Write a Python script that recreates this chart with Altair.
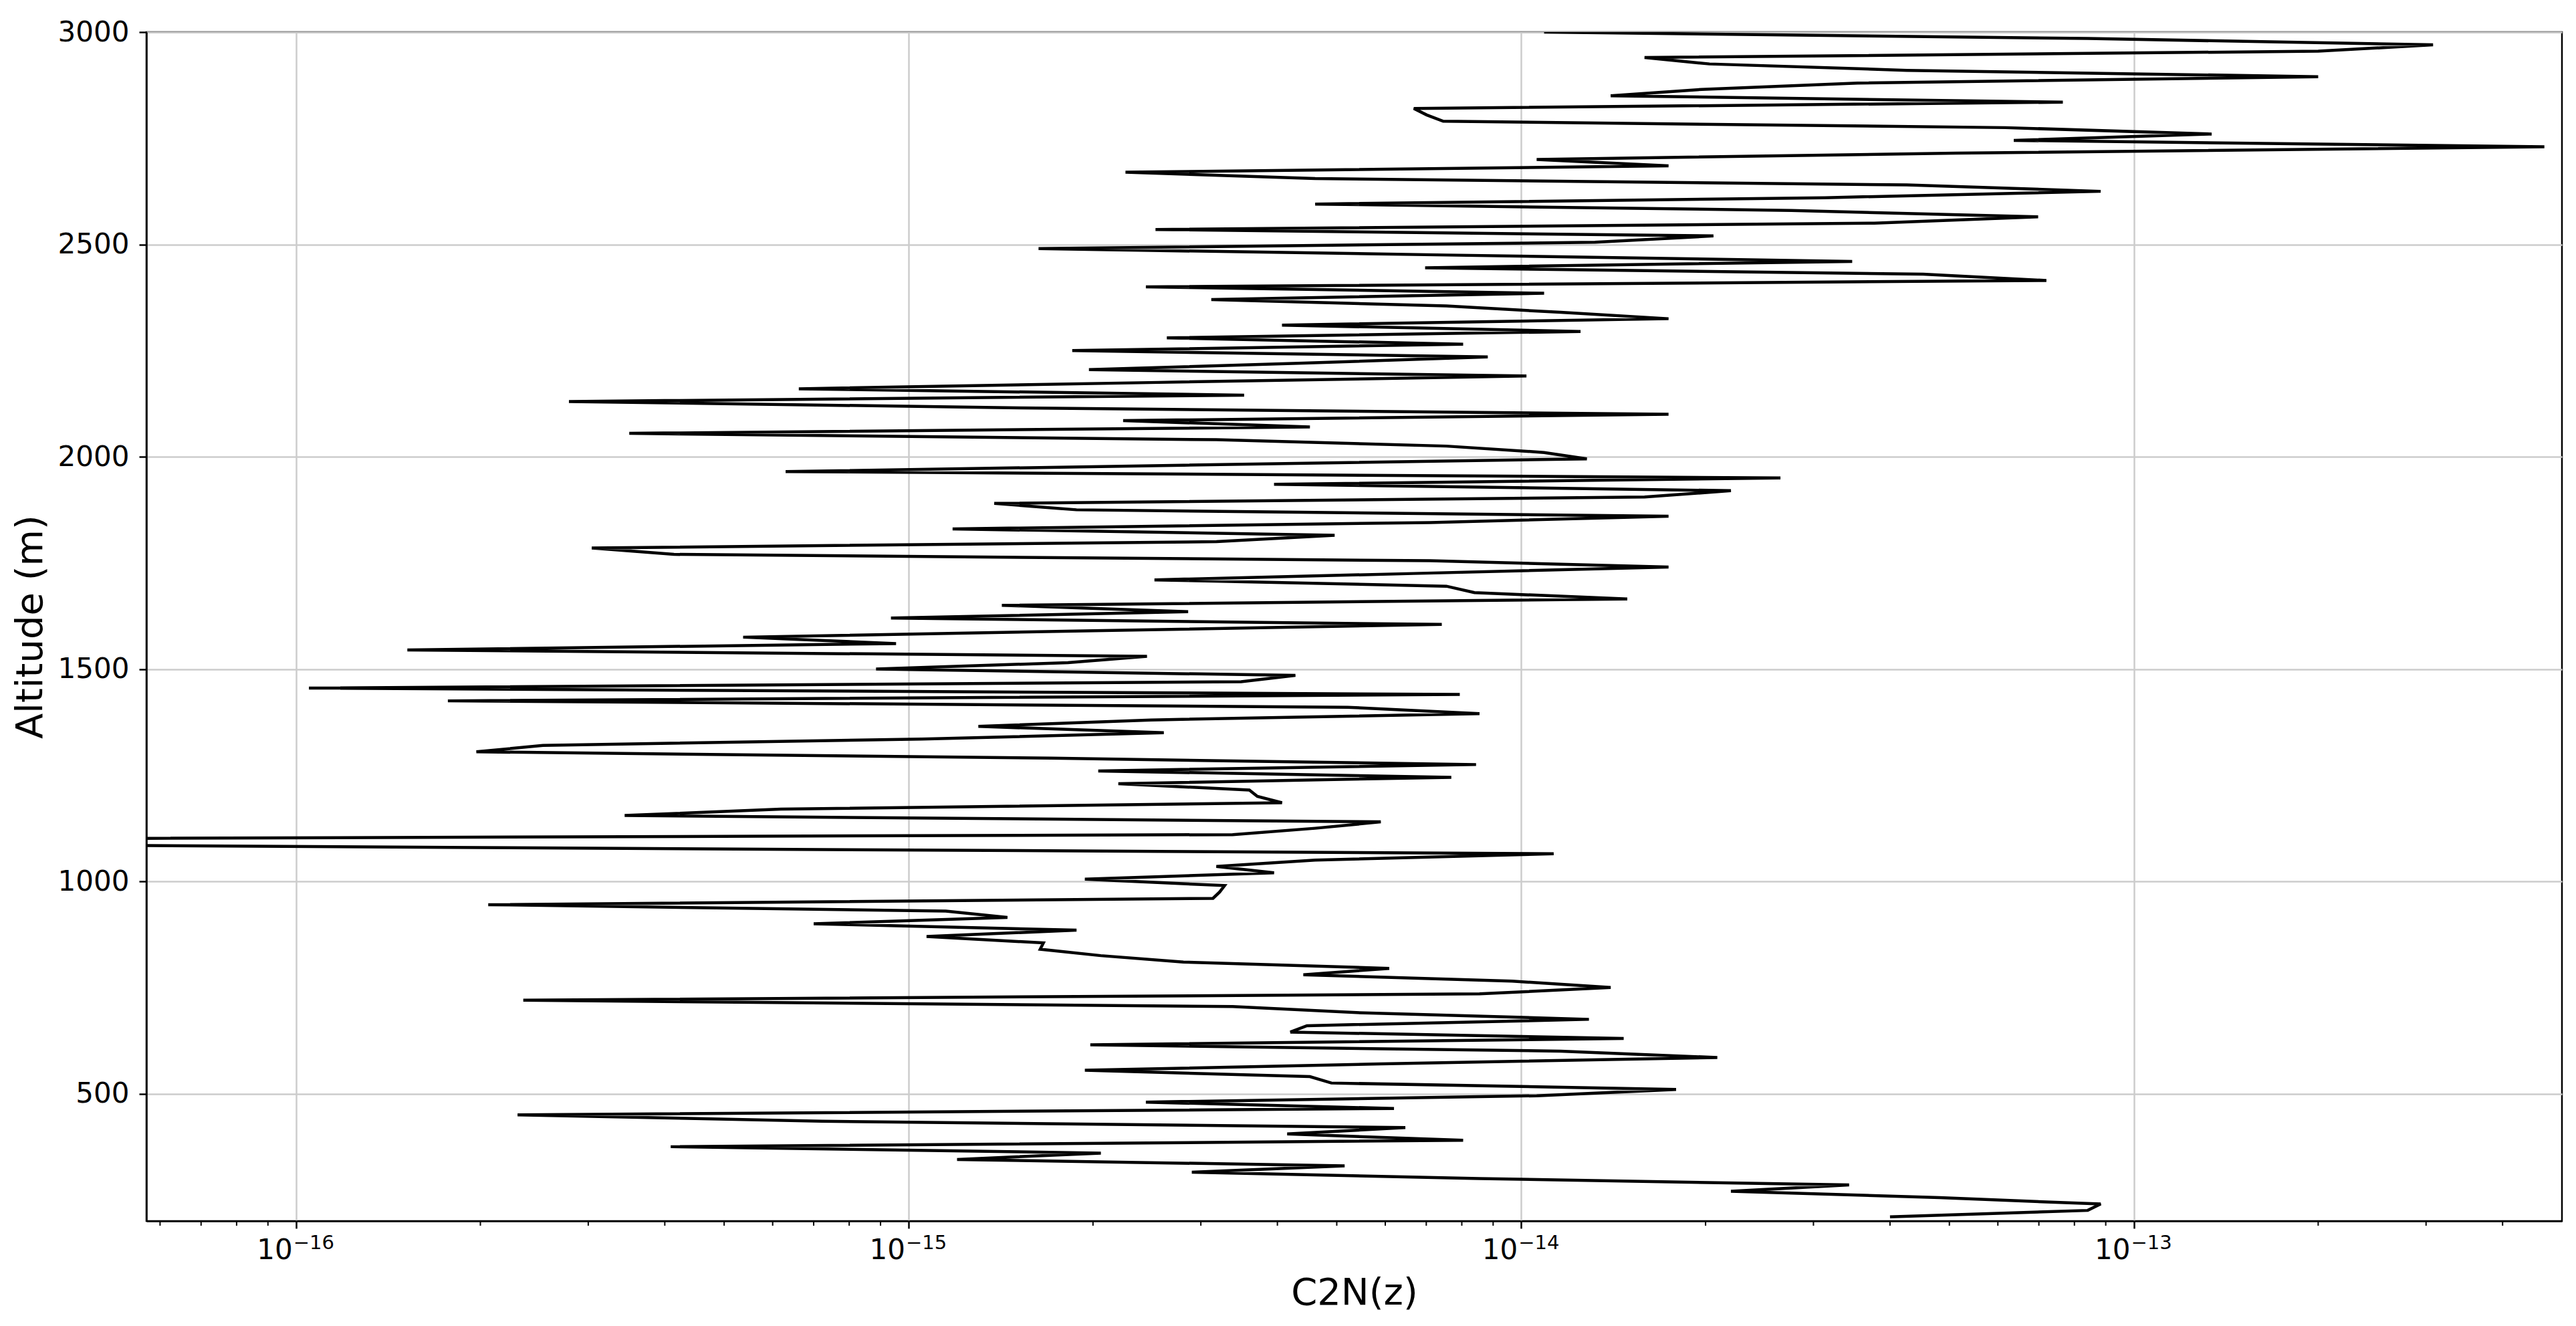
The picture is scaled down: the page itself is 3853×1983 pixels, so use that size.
import altair as alt
import pandas as pd

# Altitude grid (m), top to bottom
altitude = [
    3000, 2985, 2970, 2955, 2940, 2925, 2910, 2895, 2880, 2865,
    2850, 2835, 2820, 2805, 2790, 2775, 2760, 2745, 2730, 2715,
    2700, 2685, 2670, 2655, 2640, 2625, 2610, 2595, 2580, 2565,
    2550, 2535, 2520, 2505, 2490, 2475, 2460, 2445, 2430, 2415,
    2400, 2385, 2370, 2355, 2340, 2325, 2310, 2295, 2280, 2265,
    2250, 2235, 2220, 2205, 2190, 2175, 2160, 2145, 2130, 2115,
    2100, 2085, 2070, 2055, 2040, 2025, 2010, 1995, 1980, 1965,
    1950, 1935, 1920, 1905, 1890, 1875, 1860, 1845, 1830, 1815,
    1800, 1785, 1770, 1755, 1740, 1725, 1710, 1695, 1680, 1665,
    1650, 1635, 1620, 1605, 1590, 1575, 1560, 1545, 1530, 1515,
    1500, 1485, 1470, 1455, 1440, 1425, 1410, 1395, 1380, 1365,
    1350, 1335, 1320, 1305, 1290, 1275, 1260, 1245, 1230, 1215,
    1200, 1185, 1170, 1155, 1140, 1125, 1110, 1095, 1080, 1065,
    1050, 1035, 1020, 1005, 990, 975, 960, 945, 930, 915,
    900, 885, 870, 855, 840, 825, 810, 795, 780, 765,
    750, 735, 720, 705, 690, 675, 660, 645, 630, 615,
    600, 585, 570, 555, 540, 525, 510, 495, 480, 465,
    450, 435, 420, 405, 390, 375, 360, 345, 330, 315,
    300, 285, 270, 255, 240, 225, 210,
]

# C2N(z) values read from the profile
c2n = [
    1.09e-14, 8.4e-14, 3.08e-13, 2.0e-13, 1.59e-14, 2.03e-14, 4.26e-14, 2.0e-13, 3.54e-14, 1.97e-14,
    1.40e-14, 7.66e-14, 6.68e-15, 7.01e-15, 7.46e-15, 6.17e-14, 1.34e-13, 6.37e-14, 4.68e-13, 5.13e-14,
    1.06e-14, 1.74e-14, 2.26e-15, 4.61e-15, 4.26e-14, 8.83e-14, 3.13e-14, 4.61e-15, 2.76e-14, 6.98e-14,
    3.77e-14, 2.53e-15, 2.06e-14, 1.32e-14, 1.63e-15, 7.55e-15, 3.47e-14, 6.97e-15, 4.53e-14, 7.20e-14,
    2.44e-15, 1.09e-14, 3.12e-15, 7.55e-15, 1.16e-14, 1.74e-14, 4.07e-15, 1.25e-14, 2.64e-15, 8.04e-15,
    1.85e-15, 8.82e-15, 4.33e-15, 1.97e-15, 1.02e-14, 2.56e-15, 6.62e-16, 3.53e-15, 2.79e-16, 1.52e-15,
    1.74e-14, 2.24e-15, 4.52e-15, 3.50e-16, 3.18e-15, 7.55e-15, 1.09e-14, 1.28e-14, 2.81e-15, 6.30e-16,
    2.65e-14, 3.95e-15, 2.20e-14, 1.59e-14, 1.38e-15, 1.88e-15, 1.74e-14, 7.10e-15, 1.18e-15, 4.96e-15,
    3.18e-15, 3.04e-16, 4.14e-16, 7.10e-15, 1.74e-14, 6.68e-15, 2.52e-15, 7.55e-15, 8.39e-15, 1.49e-14,
    1.42e-15, 2.86e-15, 9.36e-16, 7.42e-15, 2.00e-15, 5.37e-16, 9.54e-16, 1.52e-16, 2.45e-15, 1.82e-15,
    8.85e-16, 4.28e-15, 3.49e-15, 1.05e-16, 7.94e-15, 1.77e-16, 5.21e-15, 8.55e-15, 2.49e-15, 1.30e-15,
    2.61e-15, 1.05e-15, 2.53e-16, 1.97e-16, 1.71e-15, 8.44e-15, 2.04e-15, 7.69e-15, 2.20e-15, 3.60e-15,
    3.71e-15, 4.07e-15, 6.19e-16, 3.44e-16, 5.90e-15, 4.61e-15, 3.38e-15, 3.2e-18, 1.78e-16, 1.13e-14,
    4.61e-15, 3.18e-15, 3.95e-15, 1.94e-15, 3.28e-15, 3.22e-15, 3.14e-15, 2.06e-16, 1.15e-15, 1.45e-15,
    7.00e-16, 1.88e-15, 1.07e-15, 1.66e-15, 1.64e-15, 2.06e-15, 2.81e-15, 6.09e-15, 4.41e-15, 9.67e-15,
    1.40e-14, 8.55e-15, 2.35e-16, 3.38e-15, 5.55e-15, 1.29e-14, 4.47e-15, 4.20e-15, 1.47e-14, 1.98e-15,
    1.16e-14, 2.09e-14, 5.90e-15, 1.94e-15, 4.52e-15, 4.90e-15, 1.79e-14, 1.06e-14, 2.44e-15, 6.20e-15,
    2.30e-16, 7.22e-16, 6.47e-15, 4.15e-15, 8.04e-15, 4.09e-16, 2.06e-15, 1.20e-15, 5.15e-15, 2.90e-15,
    8.55e-15, 3.43e-14, 2.20e-14, 4.82e-14, 8.83e-14, 8.41e-14, 4.00e-14,
]

x_domain = [5.7e-17, 5.0e-13]
y_domain = [200, 3000]
x_tick_values = [1e-16, 1e-15, 1e-14, 1e-13]
x_tick_base = ["10", "10", "10", "10"]
x_tick_exponents = ["\u221216", "\u221215", "\u221214", "\u221213"]
x_minor_ticks = [
    6e-17, 7e-17, 8e-17, 9e-17,
    2e-16, 3e-16, 4e-16, 5e-16, 6e-16, 7e-16, 8e-16, 9e-16,
    2e-15, 3e-15, 4e-15, 5e-15, 6e-15, 7e-15, 8e-15, 9e-15,
    2e-14, 3e-14, 4e-14, 5e-14, 6e-14, 7e-14, 8e-14, 9e-14,
    2e-13, 3e-13, 4e-13,
]
y_tick_values = [500, 1000, 1500, 2000, 2500, 3000]

W, H = 3613, 1778
FONT = "DejaVu Sans"

df = pd.DataFrame({"altitude": altitude, "c2n": c2n})
minor_df = pd.DataFrame({"c2n": x_minor_ticks})
label_df = pd.DataFrame({"c2n": x_tick_values, "base": x_tick_base, "exp": x_tick_exponents})

xscale = alt.Scale(type="log", domain=x_domain, nice=False)
yscale = alt.Scale(domain=y_domain, nice=False, zero=False)

x_axis = alt.Axis(
    values=x_tick_values,
    labels=False,
    grid=True, gridColor="#cccccc", gridWidth=2.5,
    domain=True, domainColor="black", domainWidth=2.5,
    ticks=True, tickSize=11, tickWidth=2.5, tickColor="black",
    title="C2N(z)", titleFont=FONT, titleFontSize=56, titleFontWeight="normal",
    titleColor="black", titleX=W / 2, titleY=124, titleAlign="center",
    titleBaseline="alphabetic",
)

y_axis = alt.Axis(
    values=y_tick_values, format="d",
    grid=True, gridColor="#cccccc", gridWidth=2.5,
    domain=True, domainColor="black", domainWidth=2.5,
    ticks=True, tickSize=11, tickWidth=2.5, tickColor="black",
    labelFont=FONT, labelFontSize=42, labelColor="black",
    labelPadding=15, labelFlush=False, labelBaseline="middle",
    title="Altitude (m)", titleFont=FONT, titleFontSize=56, titleFontWeight="normal",
    titleColor="black", titleX=-174, titleY=H / 2, titleAngle=270,
    titleAlign="center", titleBaseline="middle",
)

line = alt.Chart(df).mark_line(color="black", strokeWidth=4.5, clip=True).encode(
    x=alt.X("c2n:Q", scale=xscale, axis=x_axis),
    y=alt.Y("altitude:Q", scale=yscale, axis=y_axis),
    order=alt.Order("altitude:Q"),
)

minor = alt.Chart(minor_df).mark_rule(color="black", strokeWidth=2).encode(
    x=alt.X("c2n:Q", scale=xscale, axis=x_axis),
    y=alt.value(H),
    y2=alt.value(H + 7),
)

base_labels = alt.Chart(label_df).mark_text(
    font=FONT, fontSize=42, color="black", align="right", baseline="alphabetic", dx=-5
).encode(
    x=alt.X("c2n:Q", scale=xscale, axis=x_axis),
    y=alt.value(H + 57),
    text="base:N",
)

exp_labels = alt.Chart(label_df).mark_text(
    font=FONT, fontSize=29, color="black", align="left", baseline="alphabetic", dx=-4
).encode(
    x=alt.X("c2n:Q", scale=xscale, axis=x_axis),
    y=alt.value(H + 42),
    text="exp:N",
)

chart = (
    alt.layer(line, minor, base_labels, exp_labels)
    .properties(
        width=W, height=H,
        autosize=alt.AutoSizeParams(type="none"),
        padding={"left": 211, "top": 40, "right": 13, "bottom": 150},
        background="white",
    )
    .configure_view(stroke="black", strokeWidth=2.5)
)

chart.save("out.html", embed_options={"renderer": "svg", "actions": False})
